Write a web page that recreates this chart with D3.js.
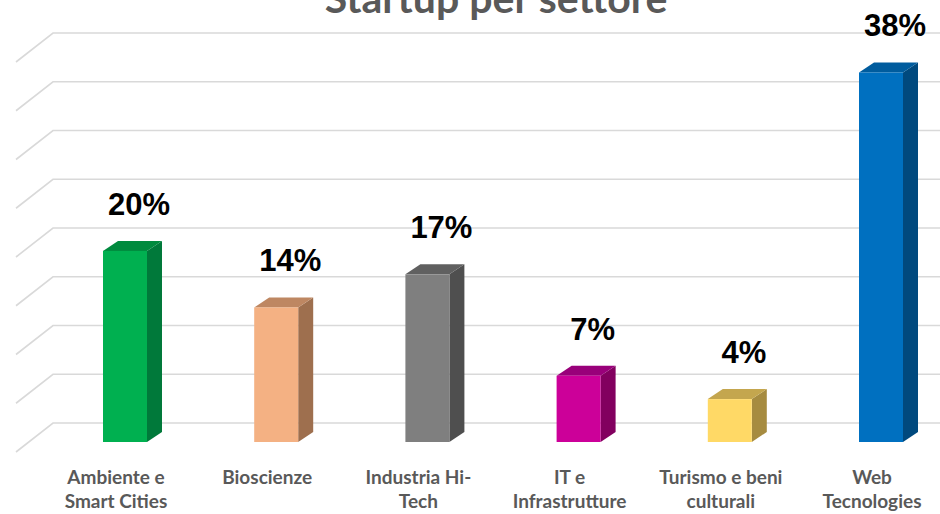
<!DOCTYPE html>
<html>
<head>
<meta charset="utf-8">
<script src="https://cdn.jsdelivr.net/npm/d3@7"></script>
<style>
  body { margin: 0; background: #ffffff; }
  svg { display: block; }
</style>
</head>
<body>
<script>
var categories = ["Ambiente e|Smart Cities", "Bioscienze", "Industria Hi-|Tech",
    "IT e|Infrastrutture", "Turismo e beni|culturali", "Web|Tecnologies"];
var values = [0.196, 0.138, 0.172, 0.068, 0.044, 0.379];
var frontColors = ["#00B050", "#F4B183", "#7F7F7F", "#CC0099", "#FFD966", "#0070C0"];
var sideColors = ["#00793A", "#9E6F4E", "#4F4F4F", "#82005F", "#A68B40", "#00497E"];
var topColors = ["#008A3E", "#BE8762", "#606060", "#99007A", "#C4A64E", "#005C9E"];
var yTicks = [0, 0.05, 0.1, 0.15, 0.2, 0.25, 0.3, 0.35, 0.4];

var width = 940;
var height = 514;

var svg = d3.select("body").append("svg")
    .attr("width", width)
    .attr("height", height);

// back wall scale
var yScale = d3.scaleLinear()
    .domain([0, 0.4])
    .range([423, 33]);

var xScale = d3.scaleBand()
    .domain(categories)
    .range([49.4, 956.6])
    .paddingInner(0.709)
    .paddingOuter(0.3545);

// perspective offsets
var floorDx = -37, floorDy = 29;   // back wall -> front edge of floor
var barDy = 19;                    // bar front face below back wall
var depthDx = 15, depthDy = -10;   // bar depth (front -> back)
var wallX = 53;

// gridlines
var grid = svg.append("g");
yTicks.forEach(function(t){
    var y = yScale(t);
    grid.append("polyline")
        .attr("points", (wallX + floorDx) + "," + (y + floorDy) + " " +
            wallX + "," + y + " " + width + "," + y)
        .attr("fill", "none")
        .attr("stroke", "#D9D9D9")
        .attr("stroke-width", 1.6);
});

// bars
var bars = svg.append("g")
    .selectAll("g")
    .data(categories)
    .enter()
    .append("g");

bars.each(function(d, i){
    var g = d3.select(this);
    var xL = xScale(d);
    var xR = xL + xScale.bandwidth();
    var yT = yScale(values[i]) + barDy;
    var yB = yScale(0) + barDy;

    g.append("polygon")
        .attr("points", [[xR, yT], [xR + depthDx, yT + depthDy],
            [xR + depthDx, yB + depthDy], [xR, yB]].join(" "))
        .attr("fill", sideColors[i]);

    g.append("polygon")
        .attr("points", [[xL, yT], [xL + depthDx, yT + depthDy],
            [xR + depthDx, yT + depthDy], [xR, yT]].join(" "))
        .attr("fill", topColors[i]);

    g.append("rect")
        .attr("x", xL)
        .attr("y", yT)
        .attr("width", xR - xL)
        .attr("height", yB - yT)
        .attr("fill", frontColors[i]);

    g.append("text")
        .text(d3.format(".0%")(values[i]))
        .attr("x", (xL + xR) / 2 + 14)
        .attr("y", yT - 36)
        .attr("text-anchor", "middle")
        .attr("font-family", "'Liberation Sans', Arial, sans-serif")
        .attr("font-weight", "bold")
        .attr("font-size", 31)
        .attr("fill", "#000000");
});

// category labels
var labels = svg.append("g")
    .selectAll("text")
    .data(categories)
    .enter()
    .append("text")
    .attr("text-anchor", "middle")
    .attr("font-family", "Lato, sans-serif")
    .attr("font-weight", "bold")
    .attr("font-size", 19)
    .attr("fill", "#595959");

labels.each(function(d){
    var cx = xScale(d) + xScale.bandwidth() / 2 - 9;
    var lines = d.split("|");
    var t = d3.select(this);
    lines.forEach(function(line, j){
        t.append("tspan")
            .attr("x", cx)
            .attr("y", 484 + j * 24)
            .text(line);
    });
});

// title
svg.append("text")
    .text("Startup per settore")
    .attr("x", 496)
    .attr("y", 13)
    .attr("text-anchor", "middle")
    .attr("font-family", "Lato, sans-serif")
    .attr("font-weight", "bold")
    .attr("font-size", 41)
    .attr("fill", "#595959");
</script>
</body>
</html>
